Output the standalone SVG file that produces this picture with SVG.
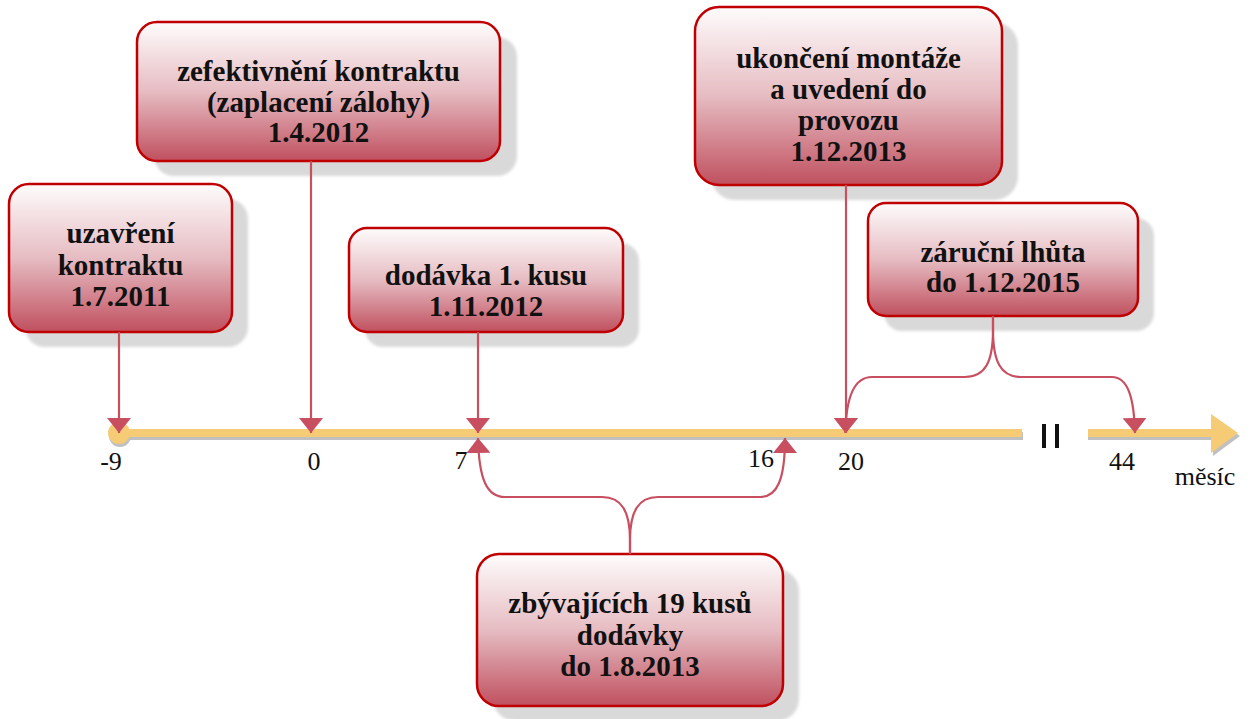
<svg xmlns="http://www.w3.org/2000/svg" width="1251" height="719" viewBox="0 0 1251 719">
<style>
.box{fill:url(#g);stroke:#c00000;stroke-width:2.5}
.sh{fill:#d9d9d9;filter:url(#blur)}
.t{font-family:'Liberation Serif','DejaVu Serif',serif;font-weight:bold;font-size:29px;fill:#111;text-anchor:middle}
.lbl{font-family:'Liberation Serif','DejaVu Serif',serif;font-size:26px;fill:#111;text-anchor:middle}
.c{fill:none;stroke:#c84f60;stroke-width:2.2;marker-end:url(#ah)}
</style>
<defs>
<linearGradient id="g" x1="0" y1="0" x2="0" y2="1">
<stop offset="0" stop-color="#fefcfc"/>
<stop offset="0.5" stop-color="#e6bcc2"/>
<stop offset="1" stop-color="#c0505f"/>
</linearGradient>
<filter id="blur" x="-10%" y="-10%" width="120%" height="120%"><feGaussianBlur stdDeviation="1.5"/></filter>
<marker id="ah" markerUnits="userSpaceOnUse" viewBox="0 0 15 24" markerWidth="15" markerHeight="24" refX="15" refY="12" orient="auto">
<path d="M0,0 L15,12 L0,24 Z" fill="#c84f60"/>
</marker>
</defs>
<rect width="1251" height="719" fill="#fff"/>

<g id="timeline">
<line x1="121" y1="436" x2="1023" y2="436" stroke="#c0c0c0" stroke-width="8"/>
<line x1="1088" y1="436" x2="1214" y2="436" stroke="#c0c0c0" stroke-width="8"/>
<path d="M1213,418 L1240,436 L1213,456 Z" fill="#c0c0c0"/>
<circle cx="120" cy="436" r="11" fill="#c0c0c0"/>
<line x1="119" y1="433" x2="1022" y2="433" stroke="#f6cb75" stroke-width="8"/>
<line x1="1088" y1="433" x2="1213" y2="433" stroke="#f6cb75" stroke-width="8"/>
<path d="M1211,414 L1238,433 L1211,453 Z" fill="#f6cb75"/>
<circle cx="119" cy="433" r="11" fill="#f6cb75"/>
<rect x="1042" y="424" width="4" height="24" fill="#111"/>
<rect x="1055" y="424" width="4" height="24" fill="#111"/>
<text class="lbl" x="111" y="470">-9</text>
<text class="lbl" x="314" y="470">0</text>
<text class="lbl" x="461" y="469">7</text>
<text class="lbl" x="761" y="467">16</text>
<text class="lbl" x="851" y="470">20</text>
<text class="lbl" x="1122" y="470">44</text>
<text class="lbl" x="1205" y="485">měsíc</text>
</g>

<g id="n1">
<rect class="sh" x="25" y="199" width="223" height="148" rx="20"/>
<rect class="box" x="9" y="184" width="223" height="148" rx="20"/>
<text class="t" x="120.5" y="243">uzavření</text>
<text class="t" x="120.5" y="275">kontraktu</text>
<text class="t" x="120.5" y="306">1.7.2011</text>
</g>

<g id="n2">
<rect class="sh" x="154" y="37" width="363" height="139" rx="20"/>
<rect class="box" x="137" y="22" width="363" height="139" rx="20"/>
<text class="t" x="318.5" y="81">zefektivnění kontraktu</text>
<text class="t" x="318.5" y="111.5">(zaplacení zálohy)</text>
<text class="t" x="318.5" y="142">1.4.2012</text>
</g>

<g id="n3">
<rect class="sh" x="365" y="243" width="274" height="104" rx="18"/>
<rect class="box" x="349" y="228" width="274" height="104" rx="18"/>
<text class="t" x="486" y="285">dodávka 1. kusu</text>
<text class="t" x="486" y="316">1.11.2012</text>
</g>

<g id="n4">
<rect class="sh" x="711" y="22" width="307" height="178" rx="24"/>
<rect class="box" x="695" y="7" width="307" height="178" rx="24"/>
<text class="t" x="848.5" y="68">ukončení montáže</text>
<text class="t" x="848.5" y="99">a uvedení do</text>
<text class="t" x="848.5" y="130">provozu</text>
<text class="t" x="848.5" y="161">1.12.2013</text>
</g>

<g id="n5">
<rect class="sh" x="884" y="218" width="270" height="113" rx="18"/>
<rect class="box" x="868" y="203" width="270" height="113" rx="18"/>
<text class="t" x="1003" y="262">záruční lhůta</text>
<text class="t" x="1003" y="292">do 1.12.2015</text>
</g>

<g id="n6">
<rect class="sh" x="493" y="569" width="306" height="152" rx="22"/>
<rect class="box" x="477" y="554" width="306" height="152" rx="22"/>
<text class="t" x="630" y="613">zbývajících 19 kusů</text>
<text class="t" x="630" y="645">dodávky</text>
<text class="t" x="630" y="676">do 1.8.2013</text>
</g>

<g id="connectors">
<path class="c" d="M119,332 L119,433"/>
<path class="c" d="M311,161 L311,433"/>
<path class="c" d="M478,332 L478,433"/>
<path class="c" d="M846,185 L846,433"/>
<path class="c" d="M993,316 L993,330 C993,362 985,377 965,377 L872,377 C855,377 846,395 845.5,433"/>
<path class="c" d="M993,316 L993,330 C993,362 1001,377 1021,377 L1112,377 C1128,377 1134,398 1135,433"/>
<path class="c" d="M630,554 L630,540 C630,512 622,497 602,497 L505,497 C487,497 479,480 478,438"/>
<path class="c" d="M630,554 L630,540 C630,512 638,497 658,497 L760,497 C777,497 785,480 785,438"/>
</g>
</svg>
